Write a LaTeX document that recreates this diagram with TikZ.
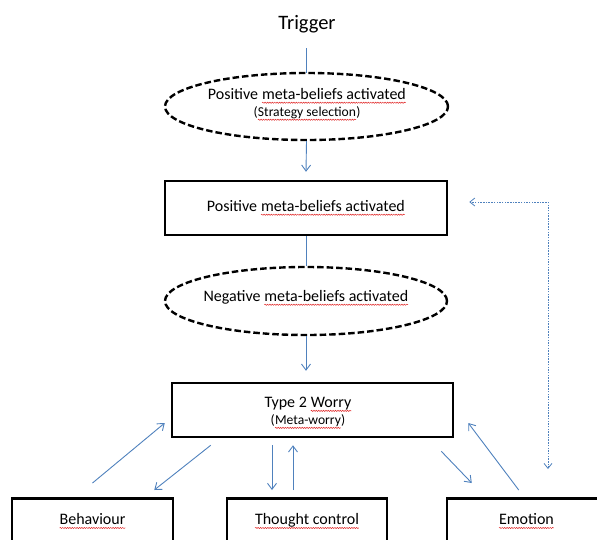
\documentclass[tikz,border=0pt]{standalone}
\usepackage{fontspec}
\setmainfont{Carlito}
\usetikzlibrary{shapes.geometric,arrows.meta,calc,decorations.pathmorphing}
\definecolor{arrblue}{RGB}{79,129,189}
\definecolor{sqred}{RGB}{225,40,40}
\newcommand\sq[1]{\tikz[baseline=(sqt.base)]{\node[inner sep=0pt,outer sep=0pt,draw=none,fill=none,minimum size=0pt] (sqt) {#1};
  \draw[sqred, solid, line width=0.5pt, decorate, decoration={snake,amplitude=0.6pt,segment length=2.4pt}]
    ([yshift=-3.2pt]sqt.base west) -- ([yshift=-3.2pt]sqt.base east);}}
\begin{document}
\begin{tikzpicture}[x=1pt,y=-1pt,
  main/.style={font=\fontsize{16}{18}\selectfont},
  dashell/.style={ellipse, draw, dash pattern=on 6.5pt off 3pt, line width=2.4pt, fill=white, inner sep=0pt},
  boxnode/.style={rectangle, draw, line width=2.5pt, fill=white, inner sep=0pt, align=center, main},
  lbl/.style={align=center, inner sep=0pt, main},
  arr/.style={draw=arrblue, line width=0.9pt, -{Straight Barb[length=6pt,width=9pt]}},
  link/.style={draw=arrblue, line width=0.9pt},
  dotarr/.style={draw=arrblue, line width=0.8pt, dash pattern=on 1.5pt off 1.2pt,
     {Straight Barb[length=5pt,width=8pt]}-{Straight Barb[length=5pt,width=8pt]}}
]
\useasboundingbox (0,0) rectangle (597,539);

% Trigger
\node[inner sep=0pt, font=\fontsize{20.5}{22}\selectfont] (trig) at (307,24) {Trigger};

% connectors behind shapes
\draw[link] ($(trig.center)+(-0.5,24)$) -- (306.5,106);

% ellipse 1
\node[dashell, minimum width=283pt, minimum height=67pt] (e1) at (306.5,106.5) {};
\node[lbl] (e1t) at (307,104.5) {Positive \sq{meta-beliefs activated}\\[-1pt]
  {\fontsize{13.6}{15}\selectfont(\sq{Strategy selection})}};

% box 1
\node[boxnode, minimum width=282pt, minimum height=54pt] (b1) at (306,208) {Positive \sq{meta-beliefs activated}};

% ellipse 2
\node[dashell, minimum width=282pt, minimum height=68pt] (e2) at (306,301) {};
\node[lbl] (e2t) at ($(e2)+(0,-3)$) {Negative \sq{meta-beliefs activated}};

% Type 2 worry box
\node[boxnode, minimum width=281pt, minimum height=54pt] (w) at (312.5,410) {};
\node[lbl] (wt) at (308,413) {Type 2 \sq{Worry}\\[-1pt]
  {\fontsize{13.6}{15}\selectfont(\sq{Meta-worry})}};

% bottom boxes
\node[boxnode, anchor=north, minimum width=161pt, minimum height=46pt] (beh) at (92.5,497) {\sq{Behaviour}};
\node[boxnode, anchor=north, minimum width=160pt, minimum height=46pt] (tc) at (307,497) {\sq{Thought control}};
\node[boxnode, anchor=north, minimum width=159pt, minimum height=46pt] (emo) at (526.5,497) {\sq{Emotion}};

% main vertical connectors
\draw[arr] (e1.south) -- ($(b1.north)+(0,-8)$);
\draw[link] (b1.south) -- (e2.north);
\draw[arr] (e2.south) -- ($(e2.south |- w.north)+(0,-11)$);

% around Type 2 worry
\draw[arr] ($(beh.north)+(0,-14)$) -- ($(w.west)+(-6,13)$);
\draw[arr] ($(w.south west)+(40,7)$) -- ($(beh.north east)+(-20,-7)$);
\draw[arr] ($(w.south)+(-40.5,7)$) -- ($(tc.north)+(-35,-7)$);
\draw[arr] ($(tc.north)+(-14,-7)$) -- ($(w.south)+(-19.5,7)$);
\draw[arr] ($(w.south east)+(-13,13)$) -- ($(emo.north west)+(26,-14)$);
\draw[arr] ($(emo.north west)+(73,-7)$) -- ($(w.east)+(14,13)$);

% dotted feedback
\coordinate (dd) at (548,469);
\draw[dotarr] (dd) |- ($(b1.east)+(21,-6)$);
\end{tikzpicture}
\end{document}
